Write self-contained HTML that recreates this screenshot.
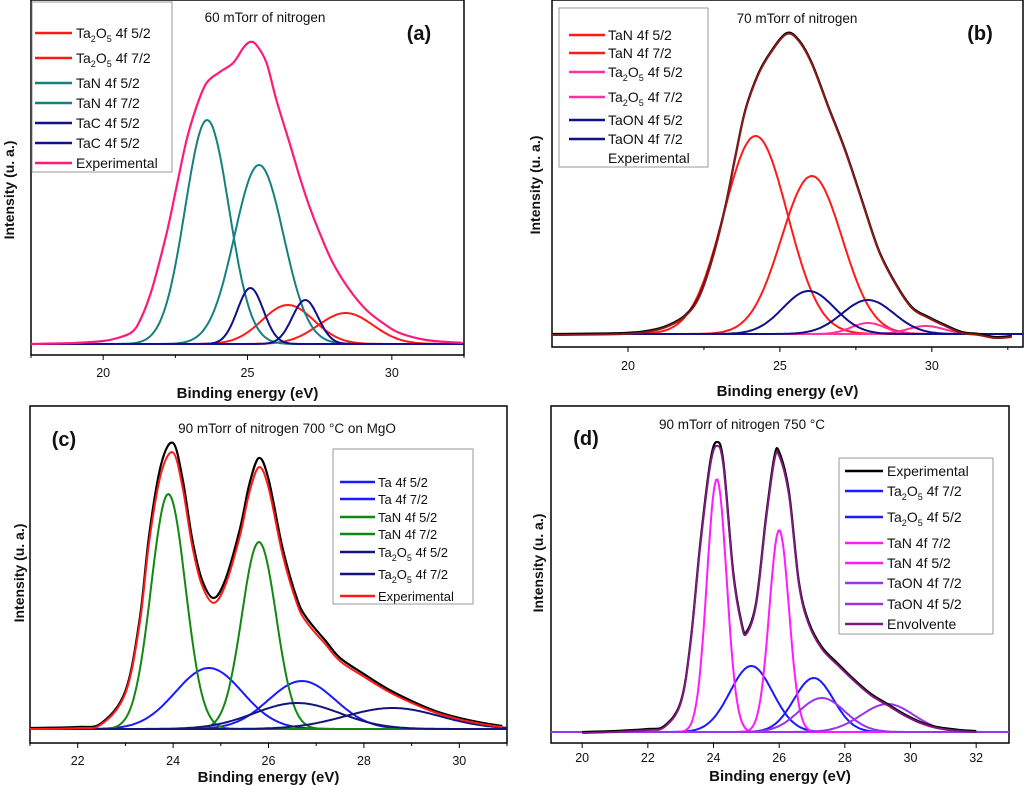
<!DOCTYPE html>
<html><head><meta charset="utf-8"><style>
body{margin:0;background:#fff}
svg{display:block;font-family:"Liberation Sans",Arial,sans-serif}
</style></head><body>
<svg id="fig" width="1024" height="785" viewBox="0 0 1024 785" xmlns="http://www.w3.org/2000/svg"></svg>
<script>
// ---------- Panel (a) data ----------
const aCenters=[26.4,28.4,23.6,25.4,25.1,27.0];
const aHeights=[39,31,224,179,56,44];
const aSigmas=[0.9,0.95,0.76,0.85,0.45,0.45];
const aExpX=[17.5,19,20,20.5,21,21.3,21.68,22.2,22.54,22.89,23.23,23.58,24.04,24.5,24.85,25.08,25.31,25.66,26.0,26.46,26.81,27.15,27.5,27.96,28.54,29.12,29.69,30.27,31.19,32.45];
const aExpY=[0,1,3,6,12,25,54,111,157,204,237,261,272,281,296,302,299,281,244,201,167,137,111,81,54,34,21,11,4,1];
const aTicks=[20,25,30];
// ---------- Panel (b) data ----------
const bCenters=[24.2,26.05,27.9,29.8,25.95,27.9];
const bHeights=[198,158,11,8,43,34];
const bSigmas=[1.05,1.0,0.55,0.6,0.85,0.85];
const bExpX=[17.5,19.9,20.79,21.34,21.89,22.33,22.76,23.2,23.53,23.86,24.3,24.74,25.23,25.62,26.05,26.6,27.15,27.7,28.25,28.8,29.34,29.89,30.44,30.99,31.54,32.09,32.63];
const bExpY=[0,1,4,9,19,37,74,127,177,224,261,284,301,294,271,227,184,134,84,51,27,17,9,2,0,-3,-2];
const bTicks=[20,25,30];
// ---------- Panel (c) data ----------
const cCenters=[24.75,26.7,23.9,25.8,26.6,28.6];
const cHeights=[61,48,235,187,26,21];
const cSigmas=[0.7,0.7,0.36,0.36,0.9,1.0];
const cExpX=[21,22,22.5,23,23.3,23.5,23.75,24,24.2,24.4,24.6,24.85,25.1,25.4,25.6,25.8,26.0,26.3,26.6,26.8,27.2,27.5,28,28.5,29,29.5,30,30.5,30.9];
const cExpY=[1,2,6,38,110,195,265,286,250,190,150,131,150,200,245,271,250,180,130,111,88,71,55,40,28,18,11,6,3];
const cTicks=[22,24,26,28,30];
// ---------- Panel (d) data ----------
const dCenters=[25.15,27.05,24.1,26.0,27.3,29.3];
const dHeights=[66,54,253,202,34,28];
const dSigmas=[0.65,0.6,0.3,0.3,0.7,0.8];
const dExpX=[20,21,22,22.5,23,23.3,23.6,23.9,24.1,24.3,24.6,24.85,25.0,25.3,25.6,25.85,26.0,26.3,26.6,26.9,27.3,27.8,28.3,28.8,29.3,29.8,30.3,30.8,31.5,32];
const dExpY=[0,1,3,6,30,90,190,270,290,270,160,110,100,130,215,275,280,240,150,110,85,68,52,38,28,18,10,5,2,1];
const dTicks=[20,22,24,26,28,30,32];

const NS="http://www.w3.org/2000/svg";
const fig=document.getElementById('fig');
function el(tag,attrs,parent){const e=document.createElementNS(NS,tag);for(const k in attrs)e.setAttribute(k,attrs[k]);(parent||fig).appendChild(e);return e;}
function gauss(x,c,h,s){return h*Math.exp(-(x-c)*(x-c)/(2*s*s));}
function smooth(pts){
  let d='M'+pts[0][0].toFixed(1)+','+pts[0][1].toFixed(1);
  for(let i=0;i<pts.length-1;i++){
    const p0=pts[Math.max(0,i-1)],p1=pts[i],p2=pts[i+1],p3=pts[Math.min(pts.length-1,i+2)];
    const c1x=p1[0]+(p2[0]-p0[0])/6,c1y=p1[1]+(p2[1]-p0[1])/6;
    const c2x=p2[0]-(p3[0]-p1[0])/6,c2y=p2[1]-(p3[1]-p1[1])/6;
    d+='C'+c1x.toFixed(1)+','+c1y.toFixed(1)+' '+c2x.toFixed(1)+','+c2y.toFixed(1)+' '+p2[0].toFixed(1)+','+p2[1].toFixed(1);
  }
  return d;
}

function panel(p){
  const g=el('g',{});
  
  
  const sx=v=>p.L+(v-p.x0)/(p.x1-p.x0)*(p.R-p.L);
  const sy=v=>p.base-v;
  const fr=el('rect',{x:p.L,y:p.T,width:p.R-p.L,height:p.B-p.T,fill:'none',stroke:'#000','stroke-width':1.5},g);
  
  
  p.ticks.forEach(t=>{
    const x=sx(t);
    const tk=el('line',{x1:x,x2:x,y1:p.B,y2:p.B+5,stroke:'#000','stroke-width':1},g);
    
    
    const tl=el('text',{x:x,y:p.tickY,'font-size':p.tickFs,'text-anchor':'middle',fill:'#111'},g);
    tl.textContent=t;
    
    
  });
  (p.minor||[]).forEach(t=>{
    const x=sx(t);
    const tk=el('line',{x1:x,x2:x,y1:p.B,y2:p.B+3,stroke:'#000','stroke-width':1},g);
    
    
  });
  const N=300;
  for(let i=0;i<p.centers.length;i++){
    let d='';
    for(let k=0;k<=N;k++){const xv=p.x0+(p.x1-p.x0)*k/N;d+=(k?'L':'M')+sx(xv).toFixed(1)+','+sy(gauss(xv,p.centers[i],p.heights[i],p.sigmas[i])).toFixed(1);}
    const pa=el('path',{d:d,fill:'none',stroke:p.colors[i],'stroke-width':2},g);
    
    
  }
  const pts=p.ex.map((xv,k)=>[sx(xv),sy(p.ey[k])]);
  const ep=el('path',{d:smooth(pts),fill:'none',stroke:p.expColor,'stroke-width':2.2,'stroke-linejoin':'round'},g);
  
  
  if(p.envColor){
    const pts2=p.ex.map((xv,k)=>[sx(xv),sy(p.ey[k]*p.envScale)+1]);
    const en=el('path',{d:smooth(pts2),fill:'none',stroke:p.envColor,'stroke-width':2,'stroke-linejoin':'round'},g);
    
    
  }
  const xt=el('text',{x:(p.L+p.R)/2,y:p.xtY,'font-size':15,'font-weight':'bold','text-anchor':'middle',fill:'#111'},g);
  xt.textContent='Binding energy (eV)';
  
  
  const yt=el('text',{x:0,y:0,'font-size':14,'font-weight':'bold','text-anchor':'middle',fill:'#111',transform:'translate('+p.ytX+','+p.ytY+') rotate(-90)'},g);
  yt.textContent='Intensity (u. a.)';
  
  
  const tt=el('text',{x:p.titleX,y:p.titleY,'font-size':13.5,'text-anchor':'middle',fill:'#111'},g);
  tt.textContent=p.title;
  
  
  const pl=el('text',{x:p.labX,y:p.labY,'font-size':20,'font-weight':'bold','text-anchor':'middle',fill:'#111'},g);
  pl.textContent=p.label;
  
  
  const lg=el('g',{},g);
  
  
  el('rect',{x:p.lg.x,y:p.lg.y,width:p.lg.w,height:p.lg.h,fill:'#fff',stroke:'#999','stroke-width':1},lg);
  p.lg.items.forEach((it,k)=>{
    const y=p.lg.rows[k];
    if(it.c){
      const ln=el('line',{x1:p.lg.lx1,x2:p.lg.lx2,y1:y,y2:y,stroke:it.c,'stroke-width':2.5},lg);
      
      
    }
    const t=el('text',{x:p.lg.tx,y:y+5,'font-size':p.lg.fs,fill:'#111'},lg);
    t.innerHTML=it.t;
    
    
  });
}
const TaO=s=>'Ta<tspan font-size="9" dy="4">2</tspan><tspan dy="-4">O</tspan><tspan font-size="9" dy="4">5</tspan><tspan dy="-4"> '+s+'</tspan>';

panel({name:'panel-a',L:31,R:464,T:0,B:355,base:344,x0:17.5,x1:32.5,ticks:aTicks,minor:[17.5,22.5,27.5,32.5],tickY:377,tickFs:12.5,
  centers:aCenters,heights:aHeights,sigmas:aSigmas,colors:['#ff1a1a','#ff1a1a','#168080','#168080','#10108a','#10108a'],
  ex:aExpX,ey:aExpY,expColor:'#ff1a7a',envColor:null,xtY:398,ytX:14,ytY:190,
  title:'60 mTorr of nitrogen',titleX:265,titleY:22,label:'(a)',labX:419,labY:40,
  lg:{x:32,y:2,w:140,h:170,lx1:35,lx2:72,tx:76,fs:14,rows:[33,58,83,103,123,143,163],
    items:[{c:'#ff1a1a',t:TaO('4f 5/2')},{c:'#ff1a1a',t:TaO('4f 7/2')},{c:'#168080',t:'TaN 4f 5/2'},{c:'#168080',t:'TaN 4f 7/2'},{c:'#10108a',t:'TaC 4f 5/2'},{c:'#10108a',t:'TaC 4f 5/2'},{c:'#ff1a7a',t:'Experimental'}]}});

panel({name:'panel-b',L:552,R:1023,T:0,B:347,base:334,x0:17.5,x1:33,ticks:bTicks,minor:[22.5,27.5,32.5],tickY:370,tickFs:12.5,
  centers:bCenters,heights:bHeights,sigmas:bSigmas,colors:['#ff1a1a','#ff1a1a','#ff3399','#ff3399','#10108a','#10108a'],
  ex:bExpX,ey:bExpY,expColor:'#000',envColor:'#8b1a1a',envScale:1,xtY:396,ytX:540,ytY:185,
  title:'70 mTorr of nitrogen',titleX:797,titleY:23,label:'(b)',labX:980,labY:40,
  lg:{x:559,y:8,w:149,h:159,lx1:569,lx2:605,tx:608,fs:14,rows:[35,53,72,97,120,139,158],
    items:[{c:'#ff1a1a',t:'TaN 4f 5/2'},{c:'#ff1a1a',t:'TaN 4f 7/2'},{c:'#ff3399',t:TaO('4f 5/2')},{c:'#ff3399',t:TaO('4f 7/2')},{c:'#10108a',t:'TaON 4f 5/2'},{c:'#10108a',t:'TaON 4f 7/2'},{c:null,t:'Experimental'}]}});

panel({name:'panel-c',L:30,R:507,T:406,B:743,base:729,x0:21,x1:31,ticks:cTicks,minor:[21,23,25,27,29,31],tickY:765,tickFs:12.5,
  centers:cCenters,heights:cHeights,sigmas:cSigmas,colors:['#1a1aff','#1a1aff','#118811','#118811','#14147a','#14147a'],
  ex:cExpX,ey:cExpY,expColor:'#000',envColor:'#ff1a1a',envScale:0.97,xtY:782,ytX:24,ytY:573,
  title:'90 mTorr of nitrogen 700 °C on MgO',titleX:287,titleY:433,label:'(c)',labX:64,labY:446,
  lg:{x:333,y:449,w:140,h:155,lx1:340,lx2:375,tx:378,fs:13,rows:[482,499,517,534,552,574,596],
    items:[{c:'#1a1aff',t:'Ta 4f 5/2'},{c:'#1a1aff',t:'Ta 4f 7/2'},{c:'#118811',t:'TaN 4f 5/2'},{c:'#118811',t:'TaN 4f 7/2'},{c:'#14147a',t:TaO('4f 5/2')},{c:'#14147a',t:TaO('4f 7/2')},{c:'#ff1a1a',t:'Experimental'}]}});

panel({name:'panel-d',L:551,R:1009,T:406,B:743,base:732,x0:19.05,x1:33,ticks:dTicks,minor:[],tickY:762,tickFs:12.5,
  centers:dCenters,heights:dHeights,sigmas:dSigmas,colors:['#1a1aff','#1a1aff','#ff1aff','#ff1aff','#9933ee','#9933ee'],
  ex:dExpX,ey:dExpY,expColor:'#000',envColor:'#801a80',envScale:0.99,xtY:781,ytX:543,ytY:563,
  title:'90 mTorr of nitrogen 750 °C',titleX:742,titleY:429,label:'(d)',labX:586,labY:445,
  lg:{x:839,y:458,w:154,h:176,lx1:845,lx2:883,tx:887,fs:14,rows:[471,491,517,543,563,583,604,624],
    items:[{c:'#000',t:'Experimental'},{c:'#1a1aff',t:TaO('4f 7/2')},{c:'#1a1aff',t:TaO('4f 5/2')},{c:'#ff1aff',t:'TaN 4f 7/2'},{c:'#ff1aff',t:'TaN 4f 5/2'},{c:'#9933ee',t:'TaON 4f 7/2'},{c:'#9933ee',t:'TaON 4f 5/2'},{c:'#801a80',t:'Envolvente'}]}});
</script>
</body></html>
